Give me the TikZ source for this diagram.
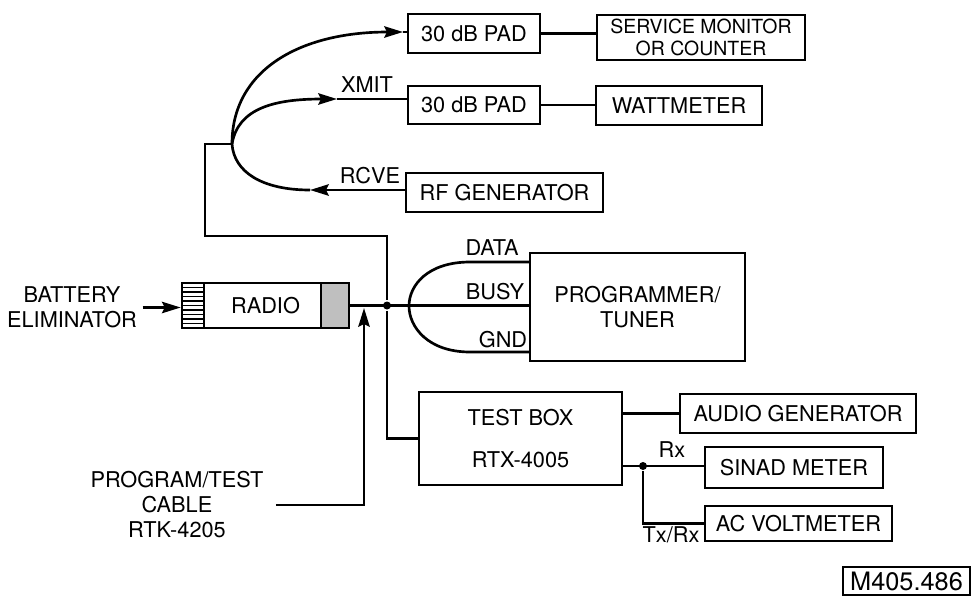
\documentclass[tikz,border=0pt]{standalone}
\usepackage{fontspec}
\setmainfont{TeX Gyre Heros}
\usetikzlibrary{arrows.meta}
\tikzset{
  box/.style={draw, line width=2pt, inner sep=0pt, align=center},
  arr/.style={-{Stealth[length=14pt,width=8.5pt,inset=2pt]}},
  junction/.style={circle, fill, inner sep=0pt, minimum size=6pt},
}
\begin{document}
\begin{tikzpicture}[x=0.75pt, y=-0.75pt, line width=2pt,
    font=\fontsize{16.3}{18.75}\selectfont]
  \useasboundingbox (0,0) rectangle (973,596);
  \node[box, minimum width=99pt, minimum height=29.25pt] (pad1) at (474,33.5) {30 dB PAD};
  \node[box, minimum width=156pt, minimum height=33.75pt, font=\fontsize{14.6}{16}\selectfont] (monitor) at (701,37.5) {SERVICE MONITOR\\OR COUNTER};
  \node[box, minimum width=99pt, minimum height=28.5pt] (pad2) at (474,105) {30 dB PAD};
  \node[box, minimum width=124.5pt, minimum height=29.25pt] (watt) at (679,105.5) {WATTMETER};
  \node[box, minimum width=147.75pt, minimum height=29.25pt] (rfgen) at (504.5,192.5) {RF GENERATOR};
  \node[box, minimum width=161.25pt, minimum height=81pt] (progr) at (637.5,307) {PROGRAMMER/\\TUNER};
  \fill[black!25] (321,283) rectangle (349,328);
  \node[box, minimum width=125.25pt, minimum height=33.75pt] (radio) at (265.5,305.5) {RADIO};
  \draw (204,283) -- (204,328) (321,283) -- (321,328);
  \foreach \y in {287.5,292,...,325}
    \draw[line width=0.9pt] (182,\y) -- (204,\y);
  \node[box, minimum width=152.25pt, minimum height=69.75pt] (testbox) at (520.5,438.5) {TEST BOX\\[13pt]RTX-4005};
  \node[box, minimum width=177pt, minimum height=29.25pt] (audio) at (798,413.5) {AUDIO GENERATOR};
  \node[box, minimum width=133.5pt, minimum height=30.75pt] (sinad) at (794,467.5) {SINAD METER};
  \node[box, minimum width=140.25pt, minimum height=26.25pt] (acvolt) at (798.5,523.5) {AC VOLTMETER};
  \node[box, line width=1.2pt, minimum width=95.25pt, minimum height=21pt, font=\fontsize{19}{22}\selectfont] (tag) at (906.5,581) {M405.486};
  \node[align=center] (battery) at (72,307.5) {BATTERY\\ELIMINATOR};
  \node[align=center] (cable) at (177,505) {PROGRAM/TEST\\CABLE\\RTK-4205};
  \node (xmit) at (367,85) {XMIT};
  \node (rcve) at (370,176) {RCVE};
  \node (data) at (492,248) {DATA};
  \node (busy) at (495,292) {BUSY};
  \node (gnd) at (503,340) {GND};
  \node (rx) at (672,450) {Rx};
  \node (txrx) at (671,535) {Tx/Rx};
  \coordinate (fork) at (232,144);
  \coordinate (pad1in) at (403,32);
  \coordinate (xmitin) at (337,99);
  \coordinate (rcvein) at (310,190);
  \coordinate (cabletip) at (364,308);
  \coordinate (dataend) at (530,262);
  \coordinate (gndend) at (530,352);
  \node[junction] (busdot) at (387,305.5) {};
  \node[junction] (meterdot) at (643,466) {};
  \draw[arr] (fork) .. controls (232,70) and (300,32) .. (pad1in);
  \draw (pad1in) -- (pad1in -| pad1.west);
  \draw[arr] (fork) .. controls (238,108) and (275,99) .. (xmitin);
  \draw (xmitin) -- (xmitin -| pad2.west);
  \draw[arr] (rcvein -| rfgen.west) -- (rcvein);
  \draw (rcvein) .. controls (262,190) and (234,172) .. (fork);
  \draw (pad1) -- (pad1 -| monitor.west);
  \draw (pad2) -- (pad2 -| watt.west);
  \draw (fork) -- (205,144) |- (387,236) -- (busdot) |- (testbox.west);
  \draw[arr] (battery.east) -- (battery.east -| radio.west);
  \draw (radio.east) -- (radio.east -| progr.west);
  \draw (dataend) -- (470,262) .. controls (428,262) and (409,285) .. (409,306)
    .. controls (409,327) and (428,352) .. (470,352) -- (gndend);
  \draw[arr] ([xshift=5pt]cable.east) -| (cabletip);
  \draw (audio.west -| testbox.east) -- (audio.west);
  \draw (meterdot -| testbox.east) -- (meterdot -| sinad.west);
  \draw (meterdot) |- (acvolt.west);
\end{tikzpicture}
\end{document}
